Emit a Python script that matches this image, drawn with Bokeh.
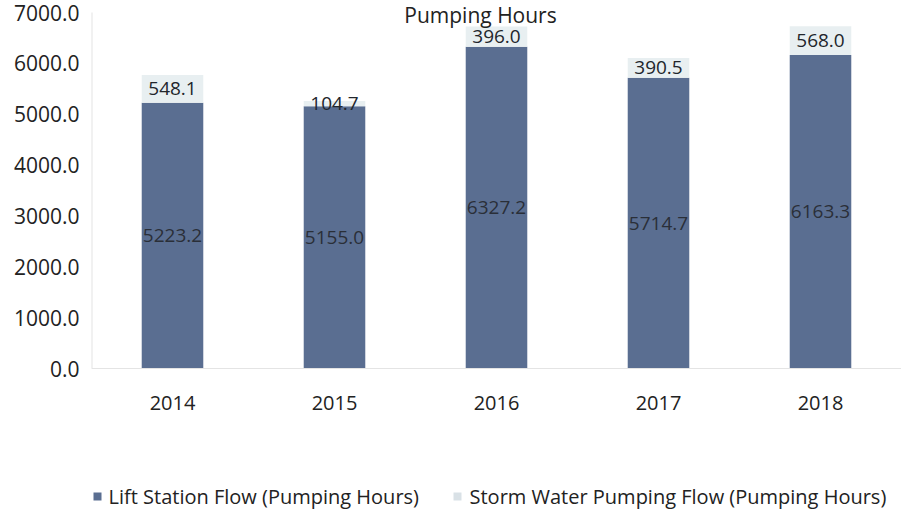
from bokeh.plotting import figure
from bokeh.models import Label, ColumnDataSource, Range1d, Span
from bokeh.core.properties import value
from bokeh.embed import file_html
from bokeh.resources import INLINE

years = ["2014", "2015", "2016", "2017", "2018"]
lift_station = [5223.2, 5155.0, 6327.2, 5714.7, 6163.3]
storm_water = [548.1, 104.7, 396.0, 390.5, 568.0]
y_ticks = [0, 1000, 2000, 3000, 4000, 5000, 6000, 7000]
title_text = "Pumping Hours"
series_names = ["Lift Station Flow (Pumping Hours)", "Storm Water Pumping Flow (Pumping Hours)"]

FONT = "Open Sans"
BLUE = "#5a6e91"
LIGHT = "#e8eff1"

# layout (canvas pixels)
W, H = 901, 511
FRAME_L = 91
ZERO_PX = 368          # canvas y of value 0
TOP_TICK_PX = 12       # canvas y of value 7000
PX_PER_X = (W - FRAME_L) / len(years)
PX_PER_Y = (ZERO_PX - TOP_TICK_PX) / 7000.0


def xv(px):
    return (px - FRAME_L) / PX_PER_X


def yv(px):
    return (ZERO_PX - px) / PX_PER_Y


centers = [i + 0.5 for i in range(len(years))]
src = ColumnDataSource(dict(
    x=centers, years=years, lift=lift_station, storm=storm_water,
    lift_mid=[v / 2 for v in lift_station],
    storm_mid=[a + b / 2 for a, b in zip(lift_station, storm_water)],
    lift_txt=[f"{v:.1f}" for v in lift_station],
    storm_txt=[f"{v:.1f}" for v in storm_water],
    year_y=[yv(ZERO_PX + 34)] * len(years),
))

p = figure(x_range=Range1d(0, len(years)), y_range=Range1d(yv(H), yv(0)),
           width=W, height=H, output_backend="svg", toolbar_location=None,
           x_axis_location=None,
           min_border_left=FRAME_L, min_border_right=0, min_border_top=0, min_border_bottom=0)
p.outline_line_color = None
p.xgrid.grid_line_color = None
p.ygrid.grid_line_color = None

p.add_layout(Span(location=0, dimension="width", line_color="#e4e4e4", line_width=1))
p.segment(x0=[0], y0=[0], x1=[0], y1=[7000], line_color="#e4e4e4", line_width=2)

rs = p.vbar_stack(["lift", "storm"], x="x", width=0.38, color=[BLUE, LIGHT],
                  line_color=None, source=src)

p.text(x="x", y="lift_mid", text="lift_txt", source=src, text_align="center",
       text_baseline="middle", text_font=value(FONT), text_font_size="19px", text_color="#2a2f38")
p.text(x="x", y="storm_mid", text="storm_txt", source=src, text_align="center",
       text_baseline="middle", text_font=value(FONT), text_font_size="19px", text_color="#22262c")
# category labels
p.text(x="x", y="year_y", text="years", source=src, text_align="center",
       text_baseline="middle", text_font=value(FONT), text_font_size="20px", text_color="#222222")

ax = p.yaxis[0]
ax.ticker = y_ticks
ax.major_label_overrides = {t: f"{t:.1f}" for t in y_ticks}
ax.axis_line_color = None
ax.major_tick_line_color = None
ax.minor_tick_line_color = None
ax.major_label_text_font = FONT
ax.major_label_text_font_size = "21px"
ax.major_label_text_color = "#222222"
ax.major_label_standoff = 6

title = Label(x=2.5 - 16 / PX_PER_X, y=yv(0), text=title_text, text_align="center",
              text_baseline="top", text_font=FONT, text_font_size="21px", text_color="#222222")
p.add_layout(title)

# legend row at the bottom, drawn inside the (extended) frame
leg_y = yv(496)
leg_src = ColumnDataSource(dict(
    gx=[xv(97), xv(457)], tx=[xv(108), xv(469)], y=[leg_y, leg_y],
    label=series_names, color=[BLUE, "#d9e1e6"],
))
p.scatter(x="gx", y="y", source=leg_src, marker="square", size=8, color="color", line_color=None)
p.text(x="tx", y="y", text="label", source=leg_src, text_align="left", text_baseline="middle",
       text_font=value(FONT), text_font_size="20px", text_color="#222222")

open("out.html", "w").write(file_html(p, INLINE))
